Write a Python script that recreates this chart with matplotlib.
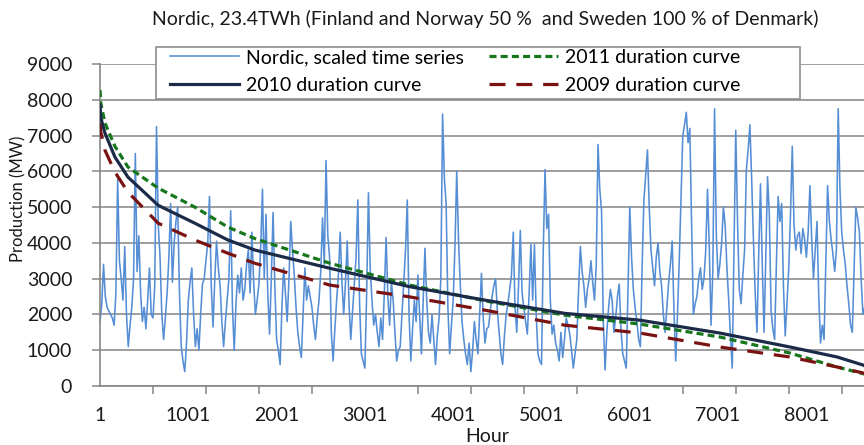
import numpy as np
import matplotlib
matplotlib.use("Agg")
import matplotlib.pyplot as plt
from matplotlib.ticker import FixedLocator
from matplotlib.patches import Rectangle

plt.rcParams['font.family'] = ['Lato', 'DejaVu Sans']

# Nordic scaled hourly series, every 20 hours:
# ts_values at hours 1, 41, 81 ... and ts_between at hours 21, 61, 101 ...
ts_step = 40
ts_values = [
    1800, 3400, 2200, 2000, 1700, 5800, 3000, 3900, 1100, 2200,
    6500, 4200, 1800, 1600, 3300, 1900, 7250, 3600, 1300, 2600,
    5100, 4000, 5000, 1100, 400, 2400, 3300, 1100, 1000, 2850,
    3500, 5300, 1650, 4050, 2800, 1100, 2400, 4900, 1000, 3100,
    3300, 2700, 3800, 4300, 2000, 2850, 5500, 4800, 1450, 4850,
    1300, 600, 3300, 1800, 4600, 3100, 1500, 800, 3300, 2800,
    2200, 1300, 2400, 4700, 6300, 3600, 700, 2400, 4300, 2000,
    4050, 1300, 2850, 5200, 900, 500, 5400, 2400, 2000, 1100,
    1300, 4150, 1700, 2400, 700, 1100, 2900, 5200, 700, 2400,
    3100, 900, 3850, 1500, 2000, 600, 1900, 7600, 5100, 900,
    2400, 6000, 2850, 1300, 600, 400, 1800, 900, 3150, 1200,
    1650, 2500, 3000, 1500, 600, 2000, 2700, 4300, 1500, 4350,
    2200, 1450, 3950, 3950, 900, 600, 6050, 4800, 1450, 1200,
    700, 800, 1900, 1450, 500, 1300, 3900, 2800, 2700, 3500,
    2400, 6750, 4900, 450, 2200, 2400, 1900, 2850, 900, 500,
    5000, 2700, 1800, 1100, 5200, 6600, 3800, 2800, 4000, 2800,
    1500, 2900, 4050, 700, 3500, 7000, 7650, 7200, 2000, 2500,
    3300, 3000, 5500, 1700, 7750, 3000, 4000, 4500, 2400, 500,
    7150, 2700, 3100, 6050, 7300, 4100, 1500, 5650, 1500, 5850,
    2100, 1300, 5300, 5100, 1400, 3300, 6700, 3800, 4300, 4400,
    3600, 5600, 3000, 4600, 1200, 1300, 5600, 4100, 3200, 7750,
    4300, 3400, 2300, 1500, 5000, 4300, 2000, 2500, 3000,
]
ts_between = [
    2300, 2500, 2100, 1900, 2600, 3500, 2400, 2000, 1700, 3000,
    3200, 2600, 2200, 2400, 2000, 2800, 4500, 2000, 1900, 3600,
    2900, 4600, 2600, 700, 1200, 2900, 2000, 1600, 2000, 3000,
    4000, 2800, 3000, 3300, 1800, 1800, 3000, 2200, 2300, 2600,
    2400, 3400, 2600, 2900, 2400, 3900, 3000, 2600, 3000, 2800,
    1000, 2200, 2600, 3000, 3800, 2200, 1100, 2000, 2400, 2500,
    1700, 1900, 3200, 3400, 4200, 1500, 1600, 3100, 2900, 2900,
    2300, 2100, 3600, 2300, 700, 2600, 3300, 1700, 1500, 1900,
    2600, 2500, 2900, 1500, 1000, 2000, 3800, 2000, 1600, 1800,
    2000, 2400, 2400, 1200, 1300, 1400, 3000, 5800, 2200, 1700,
    3900, 4100, 1800, 900, 1200, 1000, 1300, 2000, 1900, 1600,
    2100, 2800, 2100, 900, 1400, 2300, 3100, 2200, 2800, 2600,
    1800, 2600, 2400, 2000, 700, 3800, 4400, 2400, 1700, 1000,
    1500, 1300, 1700, 1000, 900, 2700, 3200, 2200, 3000, 2900,
    3400, 5500, 1800, 1500, 2700, 1500, 2500, 1600, 700, 2800,
    3600, 2200, 1300, 3400, 5900, 5000, 3300, 3600, 3200, 2000,
    2200, 3400, 2100, 2000, 5300, 7300, 6800, 4500, 2300, 3000,
    2700, 3800, 3900, 3200, 4200, 3400, 5000, 3300, 1400, 3800,
    4600, 2300, 3800, 6600, 5800, 2600, 3700, 3400, 3600, 4800,
    1600, 3400, 4600, 2800, 2300, 4800, 4500, 4200, 3700, 4100,
    4300, 4100, 3800, 2500, 1700, 3500, 4600, 3700, 3800, 5500,
    3800, 2800, 1700, 3200, 4700, 3000, 2200, 2800, 3200,
]
ts_hours = np.column_stack([np.arange(len(ts_values)) * ts_step + 1,
                            np.arange(len(ts_between)) * ts_step + 21]).ravel()
ts_all = np.column_stack([ts_values, ts_between]).ravel()

# duration curves (sorted production), read at a few hours
dc_hours = [1, 10, 57, 170, 317, 660, 1075, 1450, 1755, 2605, 3510,
            4360, 5265, 6115, 7020, 7815, 8350, 8650, 8760]
dc_2010 = [7850, 7500, 7070, 6400, 5840, 5050, 4550, 4080, 3800, 3290, 2775,
           2400, 2030, 1840, 1480, 1090, 810, 580, 400]
dc_2011 = [8270, 7900, 7350, 6700, 6120, 5530, 5000, 4440, 4120, 3430, 2820,
           2380, 1980, 1730, 1370, 920, 530, 340, 250]
dc_2009 = [7350, 7100, 6590, 5980, 5420, 4550, 4080, 3710, 3430, 2820, 2490,
           2120, 1700, 1480, 1090, 810, 530, 360, 280]

title = "Nordic, 23.4TWh (Finland and Norway 50 %  and Sweden 100 % of Denmark)"
x_labels = [1, 1001, 2001, 3001, 4001, 5001, 6001, 7001, 8001]

W, H = 864, 445
fs = 14
fig = plt.figure(figsize=(W / 100, H / 100), dpi=100)
fig.patch.set_facecolor('white')

# plot area runs past the right edge of the picture, like the original
left, bottom, top = 100, 386, 64
px_per_hour = 0.0883
right = left + (8760 - 1) * px_per_hour
ax = fig.add_axes([left / W, (H - bottom) / H, (right - left) / W, (bottom - top) / H])

ax.plot(ts_hours, ts_all, color='#558ED5', lw=1.15, zorder=2,
        label='Nordic, scaled time series')
ax.plot(dc_hours, dc_2010, color='#1B2A47', lw=2.3, zorder=4,
        label='2010 duration curve')
ax.plot(dc_hours, dc_2011, color='#16761B', lw=2.3, dashes=(2.2, 1.3),
        zorder=3, label='2011 duration curve')
ax.plot(dc_hours, dc_2009, color='#7A1212', lw=2.3, dashes=(5.0, 3.4),
        zorder=3, label='2009 duration curve')

ax.set_xlim(1, 8760)
ax.set_ylim(0, 9000)
ax.set_yticks(range(0, 9001, 1000))
ax.yaxis.grid(True, color='#8E8E8E', lw=1.2)
ax.set_axisbelow(True)

ax.xaxis.set_major_locator(FixedLocator(x_labels))
ax.xaxis.set_minor_locator(FixedLocator(np.arange(1, 8761, 600)))
ax.tick_params(axis='x', which='major', length=0, pad=15, labelsize=fs,
               colors='#1a1a1a')
ax.tick_params(axis='x', which='minor', length=6, width=1.1, color='#868686')
ax.tick_params(axis='y', length=6, width=1.1, color='#868686', pad=14,
               labelsize=fs, labelcolor='#1a1a1a')

for s in ('top', 'right'):
    ax.spines[s].set_visible(False)
for s in ('left', 'bottom'):
    ax.spines[s].set_color('#868686')
    ax.spines[s].set_linewidth(1.2)

fig.text(485 / W, 1 - 19 / H, title, ha='center', va='center', fontsize=fs,
         color='#1a1a1a')
fig.text(18 / W, 1 - 199 / H, 'Production (MW)', rotation=90, ha='center',
         va='center', fontsize=12, color='#1a1a1a')
fig.text(487 / W, 1 - 437 / H, 'Hour', ha='center', va='center',
         fontsize=fs, color='#1a1a1a')

# legend box drawn by hand, it is wider than its entries
box = Rectangle((156 / W, 1 - 99 / H), (800 - 156) / W, 52 / H,
                transform=fig.transFigure, facecolor='white',
                edgecolor='#8E8E8E', lw=1.2, zorder=4)
fig.patches.append(box)

h, l = ax.get_legend_handles_labels()
leg = fig.legend(h, l, ncol=2, loc='upper left',
                 bbox_to_anchor=(166 / W, 1 - 45 / H), fontsize=fs,
                 handlelength=3.55, handletextpad=0.36, columnspacing=1.3,
                 labelspacing=0.55, borderpad=0.2, borderaxespad=0,
                 frameon=False)
leg.set_zorder(6)

fig.savefig('out.png', dpi=100)
